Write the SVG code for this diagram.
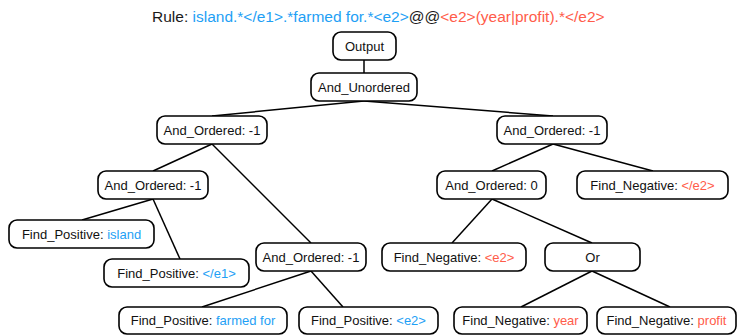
<svg xmlns="http://www.w3.org/2000/svg" width="738" height="335" viewBox="0 0 738 335">
<style>
.n{fill:#fff;stroke:#000;stroke-width:1.6}
.t{font-family:"Liberation Sans",Arial,sans-serif;font-size:13px;fill:#111;text-anchor:middle}
.b{fill:#1ea0f5}
.r{fill:#ff5c4a}
.e{stroke:#000;stroke-width:1.5;fill:none}
.title{font-family:"Liberation Sans",Arial,sans-serif;font-size:15.5px;fill:#1a1a1a}
</style>
<rect width="738" height="335" fill="#fff"/>
<text class="title" x="152" y="22">Rule: <tspan class="b">island.*&lt;/e1&gt;.*farmed for.*&lt;e2&gt;</tspan>@@<tspan class="r">&lt;e2&gt;(year|profit).*&lt;/e2&gt;</tspan></text>
<g id="connectors">
<line class="e" x1="364" y1="60" x2="364" y2="73"/>
<line class="e" x1="364" y1="101" x2="212" y2="116"/>
<line class="e" x1="364" y1="101" x2="553" y2="116"/>
<line class="e" x1="212" y1="144" x2="153" y2="171"/>
<line class="e" x1="212" y1="144" x2="311" y2="243"/>
<line class="e" x1="153" y1="199" x2="82" y2="220"/>
<line class="e" x1="153" y1="199" x2="180" y2="259"/>
<line class="e" x1="311" y1="271" x2="202" y2="307"/>
<line class="e" x1="311" y1="271" x2="343" y2="307"/>
<line class="e" x1="553" y1="144" x2="492" y2="171"/>
<line class="e" x1="553" y1="144" x2="653" y2="171"/>
<line class="e" x1="492" y1="199" x2="452" y2="243"/>
<line class="e" x1="492" y1="199" x2="592" y2="243"/>
<line class="e" x1="592" y1="271" x2="521" y2="307"/>
<line class="e" x1="592" y1="271" x2="670" y2="307"/>
</g>
<g id="output"><rect class="n" x="333" y="32" width="63" height="28" rx="8"/><text class="t" x="364.5" y="50.5">Output</text></g>
<g id="and_unordered"><rect class="n" x="311" y="73" width="106" height="28" rx="8"/><text class="t" x="364" y="91.5">And_Unordered</text></g>
<g id="ao_left"><rect class="n" x="157" y="116" width="110" height="28" rx="8"/><text class="t" x="212" y="134.5">And_Ordered: -1</text></g>
<g id="ao_right"><rect class="n" x="497" y="116" width="110" height="28" rx="8"/><text class="t" x="552" y="134.5">And_Ordered: -1</text></g>
<g id="ao_leftleft"><rect class="n" x="98" y="171" width="110" height="28" rx="8"/><text class="t" x="153" y="189.5">And_Ordered: -1</text></g>
<g id="fp_island"><rect class="n" x="9" y="220" width="145" height="28" rx="8"/><text class="t" x="81.5" y="238.5">Find_Positive: <tspan class="b">island</tspan></text></g>
<g id="fp_e1"><rect class="n" x="104" y="259" width="145" height="28" rx="8"/><text class="t" x="176.5" y="277.5">Find_Positive: <tspan class="b">&lt;/e1&gt;</tspan></text></g>
<g id="ao_mid"><rect class="n" x="256" y="243" width="110" height="28" rx="8"/><text class="t" x="311" y="261.5">And_Ordered: -1</text></g>
<g id="fp_farmed"><rect class="n" x="119" y="307" width="168" height="27" rx="8"/><text class="t" x="203" y="325">Find_Positive: <tspan class="b">farmed for</tspan></text></g>
<g id="fp_e2"><rect class="n" x="299" y="307" width="139" height="27" rx="8"/><text class="t" x="368.5" y="325">Find_Positive: <tspan class="b">&lt;e2&gt;</tspan></text></g>
<g id="ao_zero"><rect class="n" x="437" y="171" width="109" height="28" rx="8"/><text class="t" x="491.5" y="189.5">And_Ordered: 0</text></g>
<g id="fn_e2close"><rect class="n" x="577" y="171" width="151" height="28" rx="8"/><text class="t" x="652.5" y="189.5">Find_Negative: <tspan class="r">&lt;/e2&gt;</tspan></text></g>
<g id="fn_e2"><rect class="n" x="382" y="243" width="144" height="28" rx="8"/><text class="t" x="454" y="261.5">Find_Negative: <tspan class="r">&lt;e2&gt;</tspan></text></g>
<g id="or"><rect class="n" x="545" y="243" width="95" height="28" rx="8"/><text class="t" x="592.5" y="261.5">Or</text></g>
<g id="fn_year"><rect class="n" x="454" y="307" width="133" height="27" rx="8"/><text class="t" x="520.5" y="325">Find_Negative: <tspan class="r">year</tspan></text></g>
<g id="fn_profit"><rect class="n" x="597" y="307" width="139" height="27" rx="8"/><text class="t" x="666.5" y="325">Find_Negative: <tspan class="r">profit</tspan></text></g>
</svg>
